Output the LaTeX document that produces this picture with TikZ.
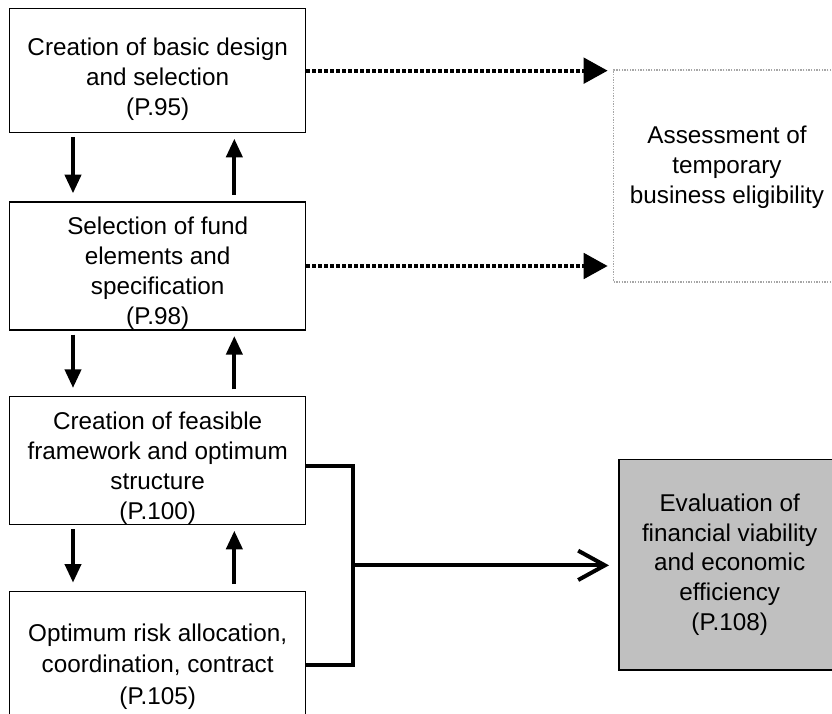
\documentclass[tikz,border=0pt]{standalone}
\usepackage{fontspec}
\setmainfont{Liberation Sans}
\usetikzlibrary{positioning,arrows.meta,calc}
\definecolor{evalgray}{HTML}{C0C0C0}
% keeps the stage text a little below the middle, as drawn
\newcommand{\topgap}[1][26pt]{\rule{0pt}{#1}}

\begin{document}
\begin{tikzpicture}[
  x=1pt, y=1pt,
  font=\fontsize{18.2pt}{22.3pt}\selectfont,
  line join=miter,
  stage/.style={
     draw,
     line width=1pt,
     minimum width=222pt,
     minimum height=96pt,
     inner sep=0pt,
     align=center
  },
  assess/.style={
     draw=gray!70,
     densely dotted,
     line width=1pt,
     minimum width=170pt,
     minimum height=159pt,
     align=center,
     execute at end node={\rule[-17pt]{0pt}{0pt}}
  },
  result/.style={
     draw,
     fill=evalgray,
     line width=1pt,
     minimum width=166pt,
     minimum height=158pt,
     align=center
  },
  flow/.style={-{Triangle[length=14pt,width=12pt]}, line width=3pt},
  dotflow/.style={
     -{Triangle[length=18pt,width=19pt]},
     line width=3pt,
     dash pattern=on 3pt off 1.5pt,
     shorten >=4pt
  },
  bracket/.style={line width=3pt},
  barb/.style={-{Straight Barb[length=20pt,width=22pt]}, line width=3pt, shorten >=7pt}
]

\useasboundingbox (0,0) rectangle (624,-535.5);

\node[stage, minimum height=93pt, anchor=north west] (design) at (6.75,-6)
     {\topgap Creation of basic design\\and selection\\(P.95)};
\node[stage, below = 51pt of design] (fund)  {\topgap[24pt]Selection of fund\\elements and\\specification\\(P.98)};
\node[stage, below = 49pt of fund]   (plan)  {\topgap[24.5pt]Creation of feasible\\framework and optimum\\structure\\(P.100)};
\node[stage, below = 49pt of plan]   (risk)  {\topgap[30pt]Optimum risk allocation,\\[1.5pt]coordination, contract\\[1.5pt](P.105)};

\node[assess, below right = 46pt and 230pt of design.north east] (elig)
     {Assessment of\\temporary\\business eligibility};
\node[result, below right = 47pt and 234pt of plan.north east]   (eval)
     {Evaluation of\\financial viability\\and economic\\efficiency\\(P.108)};


\draw[flow, shorten <=3pt, shorten >=6pt] ([xshift=48pt]design.south west) -- ([xshift=48pt]fund.north west);
\draw[flow, shorten <=5pt, shorten >=4pt] ([xshift=-54pt]fund.north east) -- ([xshift=-54pt]design.south east);

\draw[flow, shorten <=3pt, shorten >=6pt] ([xshift=48pt]fund.south west) -- ([xshift=48pt]plan.north west);
\draw[flow, shorten <=5pt, shorten >=4pt] ([xshift=-54pt]plan.north east) -- ([xshift=-54pt]fund.south east);

\draw[flow, shorten <=3pt, shorten >=6pt] ([xshift=48pt]plan.south west) -- ([xshift=48pt]risk.north west);
\draw[flow, shorten <=5pt, shorten >=4pt] ([xshift=-54pt]risk.north east) -- ([xshift=-54pt]plan.south east);


\draw[dotflow] (design.east) -- (design.east -| elig.west);
\draw[dotflow] (fund.east)   -- (fund.east -| elig.west);


\coordinate (join) at ($([yshift=-4pt]plan.east)!0.5!([yshift=-7pt]risk.east)+(35pt,0)$);
\draw[bracket] ([yshift=-4pt]plan.east) -| (join) |- ([yshift=-7pt]risk.east);
\draw[barb] (join) -- (join -| eval.west);

\end{tikzpicture}
\end{document}
